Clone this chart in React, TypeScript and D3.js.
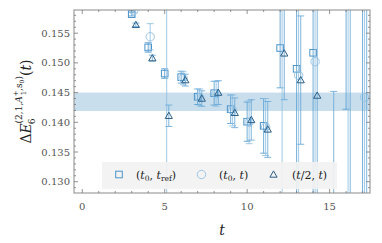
import React from 'react'
import * as d3 from 'd3'

// t values of the effective-energy points
const tVals = [3, 4, 5, 6, 7, 8, 9, 10, 11, 12, 13, 14, 15, 16, 17]

// (t0, tref)
const sqVal = [0.1582, 0.1526, 0.1482, 0.1476, 0.1443, 0.1449, 0.1422, 0.1401, 0.1394, 0.1525, 0.1490, 0.1517, null, 0.175, 0.10]
const sqErr = [0.0003, 0.0008, 0.0008, 0.0010, 0.0013, 0.0020, 0.0024, 0.0033, 0.0046, 0.0067, 0.030, 0.030, null, 0.0328, 0.08]
// (t0, t)
const ciVal = [0.1588, 0.1544, 0.115, 0.1474, 0.1442, 0.1448, 0.1420, 0.1400, 0.1392, 0.175, 0.1479, 0.1502, null, 0.12, 0.1442]
const ciErr = [0.0004, 0.0022, 0.05, 0.0011, 0.0014, 0.0021, 0.0026, 0.0036, 0.0048, 0.05, 0.04, 0.04, null, 0.05, 0.05]
// (t/2, t)
const trVal = [0.1564, 0.1508, 0.1411, 0.1471, 0.1440, 0.1450, 0.1416, 0.1404, 0.1388, 0.1516, 0.1471, 0.1445, 0.120, 0.17, 0.10]
const trErr = [0.0003, 0.0005, 0.0018, 0.0010, 0.0013, 0.0020, 0.0025, 0.0034, 0.0047, 0.0078, 0.0108, 0.05, 0.0252, 0.05, 0.08]

// fit band
const bandLo = 0.1419
const bandHi = 0.1450

const xTicks = [0, 5, 10, 15]
const yTicks = [0.130, 0.135, 0.140, 0.145, 0.150, 0.155]

const W = 382
const H = 243
const M = { left: 74, right: 12, top: 10, bottom: 50 }

const x = d3.scaleLinear().domain([-0.5, 17.45]).range([M.left, W - M.right])
const y = d3.scaleLinear().domain([0.1281, 0.1589]).range([H - M.bottom, M.top])

const serif = 'DejaVu Serif'

type Series = {
    vals: (number | null)[],
    errs: (number | null)[],
    dx: number,
    barColor: string,
    marker: 'square' | 'circle' | 'triangle',
}

const series: Series[] = [
    { vals: sqVal, errs: sqErr, dx: 0, barColor: '#5a9fd0', marker: 'square' },
    { vals: ciVal, errs: ciErr, dx: 0.12, barColor: '#8fc0e2', marker: 'circle' },
    { vals: trVal, errs: trErr, dx: 0.25, barColor: '#6aa8d6', marker: 'triangle' },
]

const Marker = ({ kind, cx, cy }: { kind: string, cx: number, cy: number }) => {
    if (kind === 'square') {
        return <rect x={cx - 3.3} y={cy - 3.3} width={6.6} height={6.6} fill="none" stroke="#4a93c9" strokeWidth={1} />
    }
    if (kind === 'circle') {
        return <circle cx={cx} cy={cy} r={4.2} fill="none" stroke="#9cc6e6" strokeWidth={1} />
    }
    const s = 3.6
    const pts = [[cx, cy - s], [cx - s, cy + s * 0.75], [cx + s, cy + s * 0.75]]
    return <polygon points={pts.map(p => p.join(',')).join(' ')} fill="none" stroke="#2d5f86" strokeWidth={1} />
}

const App = () => {
    const x0 = M.left
    const x1 = W - M.right
    const y0 = M.top
    const y1 = H - M.bottom

    const xMinor = d3.range(0, 18, 1)
    const yMinor = d3.range(0.129, 0.1589, 0.001)

    return (
        <svg width={W} height={H} style={{ position: 'absolute', left: 0, top: 0, background: '#fff' }}>
            <defs>
                <clipPath id="plot">
                    <rect x={x0} y={y0} width={x1 - x0} height={y1 - y0} />
                </clipPath>
            </defs>

            {/* fit band */}
            <rect x={x0} y={y(bandHi)} width={x1 - x0} height={y(bandLo) - y(bandHi)} fill="#c8deed" />

            <g clipPath="url(#plot)">
                {series.map((s, si) => (
                    <g key={si}>
                        {tVals.map((t, i) => {
                            const v = s.vals[i]
                            const e = s.errs[i]
                            if (v === null || e === null) return null
                            const cx = x(t + s.dx)
                            const top = y(v + e)
                            const bot = y(v - e)
                            return (
                                <g key={i} stroke={s.barColor} strokeOpacity={0.85} strokeWidth={1}>
                                    <line x1={cx} x2={cx} y1={top} y2={bot} />
                                    <line x1={cx - 3.5} x2={cx + 3.5} y1={top} y2={top} />
                                    <line x1={cx - 3.5} x2={cx + 3.5} y1={bot} y2={bot} />
                                </g>
                            )
                        })}
                        {tVals.map((t, i) => {
                            const v = s.vals[i]
                            if (v === null) return null
                            return <Marker key={'m' + i} kind={s.marker} cx={x(t + s.dx)} cy={y(v)} />
                        })}
                    </g>
                ))}
            </g>

            {/* legend */}
            <g>
                <rect x={102} y={162} width={235} height={27} fill="#f2f2f2" fillOpacity={0.9} />
                <Marker kind="square" cx={119} cy={174.5} />
                <text x={136} y={179} fontFamily={serif} fontSize={11} fill="#222">
                    (<tspan fontStyle="italic">t</tspan><tspan fontSize={7.5} dy={2}>0</tspan><tspan dy={-2}>,  </tspan>
                    <tspan fontStyle="italic">t</tspan><tspan fontSize={7.5} dy={2}>ref</tspan><tspan dy={-2}>)</tspan>
                </text>
                <Marker kind="circle" cx={201.5} cy={174.5} />
                <text x={219} y={179} fontFamily={serif} fontSize={11} fill="#222">
                    (<tspan fontStyle="italic">t</tspan><tspan fontSize={7.5} dy={2}>0</tspan><tspan dy={-2}>,  </tspan>
                    <tspan fontStyle="italic">t</tspan>)
                </text>
                <Marker kind="triangle" cx={273.5} cy={174.5} />
                <text x={292} y={179} fontFamily={serif} fontSize={11} fill="#222">
                    (<tspan fontStyle="italic">t</tspan>/2,  <tspan fontStyle="italic">t</tspan>)
                </text>
            </g>

            {/* frame */}
            <rect x={x0} y={y0} width={x1 - x0} height={y1 - y0} fill="none" stroke="#8a8a8a" strokeWidth={1} />

            {/* ticks */}
            <g stroke="#777" strokeWidth={0.8}>
                {xMinor.map(t => {
                    const major = t % 5 === 0
                    const len = major ? 4 : 2
                    return (
                        <g key={'x' + t}>
                            <line x1={x(t)} x2={x(t)} y1={y1} y2={y1 - len} />
                            <line x1={x(t)} x2={x(t)} y1={y0} y2={y0 + len} />
                        </g>
                    )
                })}
                {yMinor.map((v, i) => {
                    const major = Math.round(v * 1000) % 5 === 0
                    const len = major ? 4 : 2
                    return (
                        <g key={'y' + i}>
                            <line x1={x0} x2={x0 + len} y1={y(v)} y2={y(v)} />
                            <line x1={x1} x2={x1 - len} y1={y(v)} y2={y(v)} />
                        </g>
                    )
                })}
            </g>

            {/* tick labels */}
            <g fontFamily={serif} fontSize={10} fill="#555">
                {xTicks.map(t => (
                    <text key={t} x={x(t)} y={210} textAnchor="middle">{t}</text>
                ))}
                {yTicks.map(v => (
                    <text key={v} x={70} y={y(v) + 3.5} textAnchor="end">{d3.format('.3f')(v)}</text>
                ))}
            </g>

            {/* axis labels */}
            <text x={(x0 + x1) / 2} y={235} textAnchor="middle" fontFamily={serif} fontStyle="italic" fontSize={14} fill="#222">t</text>
            <text transform={`translate(31, ${(y0 + y1) / 2}) rotate(-90)`} textAnchor="middle" fontFamily={serif} fontSize={14} fill="#222">
                Δ<tspan fontStyle="italic">E</tspan>
                <tspan fontSize={9} dy={4} dx={-1}>6</tspan>
                <tspan fontSize={9} dy={-13} dx={-5}>(2,1,</tspan>
                <tspan fontSize={9} fontStyle="italic">A</tspan>
                <tspan fontSize={7} dy={-4}>+</tspan>
                <tspan fontSize={7} dy={8} dx={-5}>1</tspan>
                <tspan fontSize={9} dy={-4}>,s</tspan>
                <tspan fontSize={6} dy={2}>0</tspan>
                <tspan fontSize={9} dy={-2}>)</tspan>
                <tspan dy={9}>(</tspan><tspan fontStyle="italic">t</tspan>)
            </text>
        </svg>
    )
}

export default App
